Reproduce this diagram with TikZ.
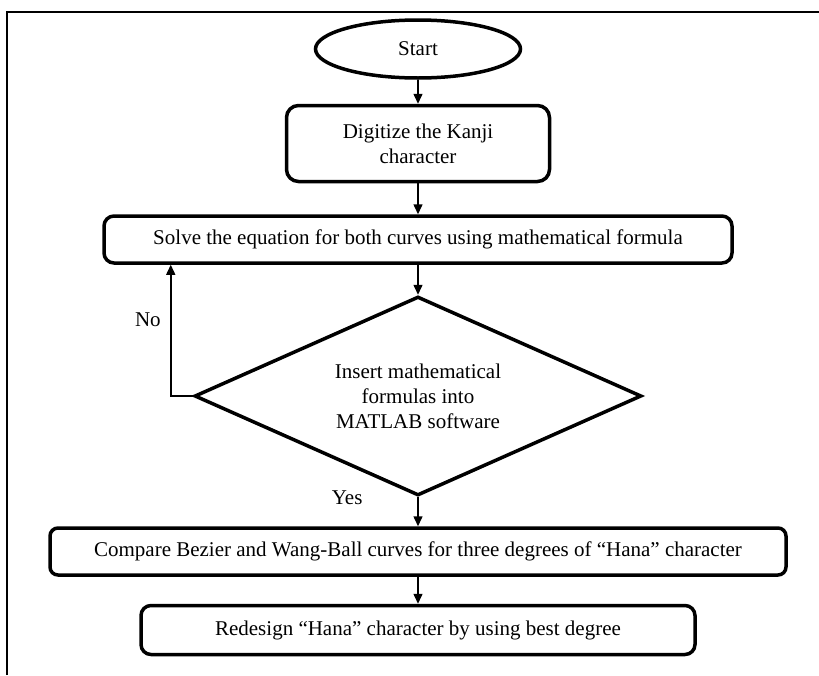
\documentclass[tikz,border=0pt]{standalone}
\usepackage{fontspec}
\setmainfont{Liberation Serif}
\usetikzlibrary{positioning,arrows.meta,shapes.geometric}

\begin{document}
\begin{tikzpicture}[
  x=1pt, y=1pt,
  node distance=28pt,
  base/.style={draw, line width=3.5pt, align=center, inner sep=0pt,
               font=\fontsize{21}{25}\selectfont},
  startnode/.style={base, ellipse, minimum width=205pt, minimum height=58pt},
  procbox/.style={base, rounded corners=10pt, minimum height=47pt},
  decision/.style={base, diamond, aspect=2.25, line width=3.5pt,
                   minimum width=447pt, minimum height=199pt},
  lbl/.style={font=\fontsize{21}{25}\selectfont},
  arr/.style={-{Triangle[length=10pt,width=9pt]}, line width=1.5pt},
]
\useasboundingbox (0,0) rectangle (819,-675);

% frame
\draw[line width=2pt] (7,-675) -- (7,-12) -- (819,-12);

% flow
\node[startnode] (start) at (418,-49) {Start};
\node[procbox, below=24pt of start, minimum width=263pt, minimum height=76pt,
      rounded corners=12pt] (digit) {Digitize the Kanji\\character};
\node[procbox, below=31pt of digit, minimum width=628pt] (solve)
  {Solve the equation for both curves using mathematical formula};
\node[decision, below=30pt of solve] (insert)
  {Insert mathematical\\formulas into\\MATLAB software};
\node[procbox, below=29pt of insert, minimum width=736pt, rounded corners=8pt] (compare)
  {Compare Bezier and Wang-Ball curves for three degrees of “Hana” character};
\node[procbox, below=27pt of compare, minimum width=554pt, minimum height=49pt] (redesign)
  {Redesign “Hana” character by using best degree};

% labels
\node[lbl, anchor=east] (yes) at ([xshift=-52pt]insert.south) {Yes};

% arrows
\draw[arr] (start) -- (digit);
\draw[arr] (digit) -- (solve);
\draw[arr] (solve) -- (insert);
\draw[arr] (insert) -- (compare);
\draw[arr] (compare) -- (redesign);
\draw[arr] (insert.west) -- ++(-22,0) coordinate (noturn)
  -- node[lbl, left=6pt, pos=0.58] (no) {No} (noturn |- solve.south);
\end{tikzpicture}
\end{document}
